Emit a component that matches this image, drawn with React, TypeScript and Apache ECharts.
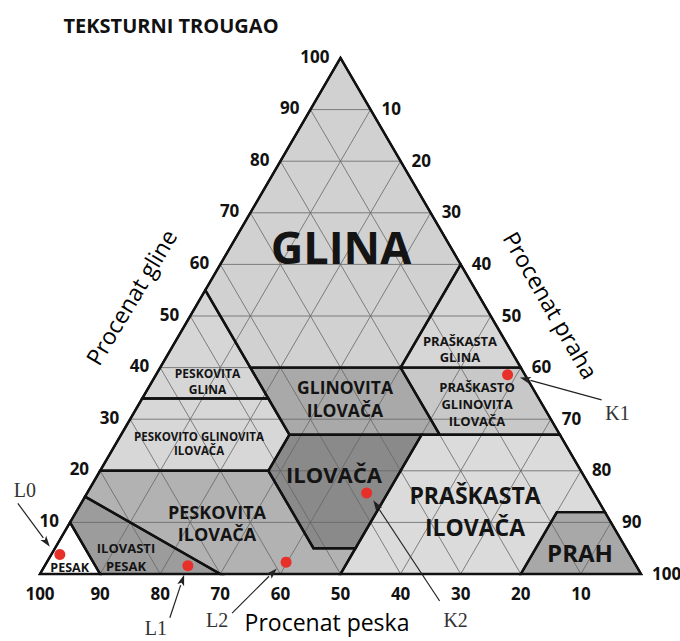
import React, { useEffect, useRef } from "react";
import * as echarts from "echarts";

// ---------- data ----------
const TITLE = "TEKSTURNI TROUGAO";
const CLAY_TITLE = "Procenat gline";
const SILT_TITLE = "Procenat praha";
const SAND_TITLE = "Procenat peska";

const TICK_VALUES = [10, 20, 30, 40, 50, 60, 70, 80, 90, 100];
const GRID_LEVELS = [10, 20, 30, 40, 50, 60, 70, 80, 90];

const CLASS_NAMES = [
  "GLINA",
  "PESKOVITA\nGLINA",
  "PESKOVITO GLINOVITA\nILOVAČA",
  "GLINOVITA\nILOVAČA",
  "PRAŠKASTA\nGLINA",
  "PRAŠKASTO\nGLINOVITA\nILOVAČA",
  "ILOVAČA",
  "PESKOVITA\nILOVAČA",
  "ILOVASTI\nPESAK",
  "PESAK",
  "PRAŠKASTA\nILOVAČA",
  "PRAH",
];

// polygon vertices as [sand, silt, clay] percentages
const CLASS_VERTICES: number[][][] = [
  [[45, 0, 55], [45, 15, 40], [20, 40, 40], [0, 40, 60], [0, 0, 100]],
  [[66, 0, 34], [45, 21, 34], [45, 0, 55]],
  [[80, 0, 20], [52, 28, 20], [45, 28, 27], [45, 21, 34], [66, 0, 34]],
  [[45, 15, 40], [45, 28, 27], [20, 53, 27], [20, 40, 40]],
  [[20, 40, 40], [0, 60, 40], [0, 40, 60]],
  [[20, 40, 40], [20, 53, 27], [0, 73, 27], [0, 60, 40]],
  [[52, 28, 20], [52, 43, 5], [45, 50, 5], [23, 50, 27], [45, 28, 27]],
  [[85, 0, 15], [70, 30, 0], [50, 50, 0], [45, 50, 5], [52, 43, 5], [52, 28, 20], [80, 0, 20]],
  [[90, 10, 0], [70, 30, 0], [85, 0, 15], [90, 0, 10]],
  [[100, 0, 0], [90, 10, 0], [90, 0, 10]],
  [[50, 50, 0], [20, 80, 0], [8, 80, 12], [0, 88, 12], [0, 73, 27], [23, 50, 27], [45, 50, 5]],
  [[20, 80, 0], [0, 100, 0], [0, 88, 12], [8, 80, 12]],
];

const TRIANGLE = [[100, 0, 0], [0, 100, 0], [0, 0, 100]];

const SAMPLE_NAMES = ["L0", "L1", "L2", "K2", "K1"];
const SAMPLE_SAND = [94.8, 74.6, 57.9, 37.8, 2.9];
const SAMPLE_SILT = [1.4, 23.8, 39.8, 46.5, 58.5];
const SAMPLE_CLAY = [3.8, 1.6, 2.3, 15.7, 38.6];

// ---------- layout / style ----------
const CLASS_FILLS = ["#d1d1d1", "#d6d6d6", "#d7d7d7", "#a9a9a9", "#d6d6d6", "#c8c8c8", "#8a8a8a", "#b2b2b2", "#9c9c9c", "#ffffff", "#dbdbdb", "#a8a8a8"];
const CLASS_FONT = [45, 12, 11.5, 17.5, 13, 13, 22, 18, 13, 12.5, 23, 24];
const CLASS_LINE_H = [45, 16, 14.5, 22.7, 16.6, 17, 22, 22.3, 17.7, 13, 31.7, 24];
// label anchors in cartesian percent of the triangle box [x%, y%]
const LABEL_POS = [[50.08, 63.43], [27.87, 37.21], [26.46, 25.25], [50.75, 33.97], [69.88, 43.6], [72.71, 32.95], [48.92, 19.38], [29.45, 9.88], [14.31, 3.29], [4.94, 1.3], [72.38, 12.21], [89.85, 4.13]];
// annotation offsets (px) relative to the sample dot: label, arrow start, arrow end
const ANN_LABEL = [[-35, -64], [-32, 62], [-69, 58], [89, 127], [110, 38]];
const ANN_START = [[-42, -51], [-18, 52], [-54, 51], [73, 108], [94, 25]];
const ANN_END = [[-10, -7.6], [-3.7, 9], [-9.3, 6.3], [6.6, 7.3], [12.3, 2.7]];

const FONT = "'Open Sans', 'DejaVu Sans', sans-serif";
const SERIF = "'Liberation Serif', 'DejaVu Serif', serif";

const toXY = (v: number[]) => {
  const s = v[0] + v[1] + v[2];
  const silt = (v[1] / s) * 100;
  const clay = (v[2] / s) * 100;
  return [silt + clay / 2, clay];
};

export default function App() {
  const ref = useRef<HTMLDivElement>(null);

  useEffect(() => {
    if (!ref.current) return;
    const chart = echarts.init(ref.current, null, { renderer: "svg" });

    const polySeries = (fill: boolean) => ({
      type: "custom",
      coordinateSystem: "cartesian2d",
      clip: false,
      silent: true,
      data: CLASS_NAMES.map((_, i) => [LABEL_POS[i][0], LABEL_POS[i][1]]),
      renderItem: (params: any, api: any) => {
        const i = params.dataIndex;
        const pts = CLASS_VERTICES[i].map((v) => api.coord(toXY(v)));
        return {
          type: "polygon",
          shape: { points: pts },
          style: fill
            ? { fill: CLASS_FILLS[i], stroke: CLASS_FILLS[i], lineWidth: 0.5 }
            : { fill: "none", stroke: "#111", lineWidth: 2.4, lineJoin: "miter" },
        };
      },
    });

    const option: any = {
      animation: false,
      backgroundColor: "#ffffff",
      grid: { left: 40, right: 39, top: 58, bottom: 67 },
      xAxis: { type: "value", min: 0, max: 100, show: false },
      yAxis: { type: "value", min: 0, max: 100, show: false },
      graphic: [
        {
          type: "text",
          x: 171,
          y: 25,
          style: { text: TITLE, font: `bold 20px ${FONT}`, fill: "#111", align: "center", verticalAlign: "middle" },
        },
        {
          type: "text",
          x: 131,
          y: 297,
          rotation: (59 * Math.PI) / 180,
          style: { text: CLAY_TITLE, font: `500 23px ${FONT}`, fill: "#000", align: "center", verticalAlign: "middle" },
        },
        {
          type: "text",
          x: 551,
          y: 305,
          rotation: (-60 * Math.PI) / 180,
          style: { text: SILT_TITLE, font: `500 23px ${FONT}`, fill: "#000", align: "center", verticalAlign: "middle" },
        },
        {
          type: "text",
          x: 327,
          y: 622,
          style: { text: SAND_TITLE, font: `500 23px ${FONT}`, fill: "#000", align: "center", verticalAlign: "middle" },
        },
      ],
      series: [
        polySeries(true),
        {
          type: "custom",
          coordinateSystem: "cartesian2d",
          clip: false,
          silent: true,
          data: GRID_LEVELS.map((g) => [g, g]),
          renderItem: (params: any, api: any) => {
            const g = GRID_LEVELS[params.dataIndex];
            const st = { stroke: "#666", lineWidth: 0.8 };
            const seg = (a: number[], b: number[]) => {
              const p = api.coord(toXY(a));
              const q = api.coord(toXY(b));
              return { type: "line", shape: { x1: p[0], y1: p[1], x2: q[0], y2: q[1] }, style: st };
            };
            return {
              type: "group",
              children: [
                seg([100 - g, 0, g], [0, 100 - g, g]), // clay
                seg([g, 100 - g, 0], [g, 0, 100 - g]), // sand
                seg([100 - g, g, 0], [0, g, 100 - g]), // silt
              ],
            };
          },
        },
        polySeries(false),
        {
          type: "custom",
          coordinateSystem: "cartesian2d",
          clip: false,
          silent: true,
          data: [[50, 50]],
          renderItem: (params: any, api: any) => ({
            type: "polygon",
            shape: { points: TRIANGLE.map((v) => api.coord(toXY(v))) },
            style: { fill: "none", stroke: "#111", lineWidth: 2.2, lineJoin: "miter" },
          }),
        },
        {
          type: "custom",
          coordinateSystem: "cartesian2d",
          clip: false,
          silent: true,
          data: CLASS_NAMES.map((_, i) => [LABEL_POS[i][0], LABEL_POS[i][1]]),
          renderItem: (params: any, api: any) => {
            const i = params.dataIndex;
            const p = api.coord([api.value(0), api.value(1)]);
            return {
              type: "text",
              x: p[0],
              y: p[1],
              style: {
                text: CLASS_NAMES[i],
                fontFamily: FONT,
                fontWeight: "bold",
                fontSize: CLASS_FONT[i],
                lineHeight: CLASS_LINE_H[i],
                fill: "#141414",
                align: "center",
                verticalAlign: "middle",
              },
            };
          },
        },
        {
          type: "custom",
          coordinateSystem: "cartesian2d",
          clip: false,
          silent: true,
          data: TICK_VALUES.map((t) => [t, t]),
          renderItem: (params: any, api: any) => {
            const t = TICK_VALUES[params.dataIndex];
            const base = { fontFamily: FONT, fontWeight: "bold", fontSize: 17, fill: "#111", verticalAlign: "middle" };
            const left = api.coord(toXY([100 - t, 0, t]));
            const right = api.coord(toXY([0, t, 100 - t]));
            const bottom = api.coord(toXY([t, 100 - t, 0]));
            return {
              type: "group",
              children: [
                { type: "text", x: left[0] - 11, y: left[1] - 2, style: { ...base, text: String(t), align: "right" } },
                { type: "text", x: right[0] + 11, y: right[1] - 1, style: { ...base, text: String(t), align: "left" } },
                { type: "text", x: bottom[0], y: bottom[1] + 19, style: { ...base, text: String(t), align: "center" } },
              ],
            };
          },
        },
        {
          type: "custom",
          coordinateSystem: "cartesian2d",
          clip: false,
          silent: true,
          data: SAMPLE_NAMES.map((_, i) => toXY([SAMPLE_SAND[i], SAMPLE_SILT[i], SAMPLE_CLAY[i]])),
          renderItem: (params: any, api: any) => {
            const i = params.dataIndex;
            const d = api.coord([api.value(0), api.value(1)]);
            const s = [d[0] + ANN_START[i][0], d[1] + ANN_START[i][1]];
            const e = [d[0] + ANN_END[i][0], d[1] + ANN_END[i][1]];
            const l = [d[0] + ANN_LABEL[i][0], d[1] + ANN_LABEL[i][1]];
            const dx = e[0] - s[0];
            const dy = e[1] - s[1];
            const len = Math.sqrt(dx * dx + dy * dy);
            const ux = dx / len;
            const uy = dy / len;
            const hl = 11;
            const hw = 3.6;
            const bx = e[0] - ux * hl;
            const by = e[1] - uy * hl;
            return {
              type: "group",
              children: [
                { type: "line", shape: { x1: s[0], y1: s[1], x2: bx, y2: by }, style: { stroke: "#222", lineWidth: 1.2 } },
                {
                  type: "polygon",
                  shape: { points: [e, [bx - uy * hw, by + ux * hw], [bx + ux * 2.5, by + uy * 2.5], [bx + uy * hw, by - ux * hw]] },
                  style: { fill: "#222" },
                },
                {
                  type: "text",
                  x: l[0],
                  y: l[1],
                  style: { text: SAMPLE_NAMES[i], fontFamily: SERIF, fontSize: 20, fill: "#333", align: "center", verticalAlign: "middle" },
                },
              ],
            };
          },
        },
        {
          type: "scatter",
          silent: true,
          symbol: "circle",
          symbolSize: 11,
          itemStyle: { color: "#e8302a", opacity: 1 },
          data: SAMPLE_NAMES.map((_, i) => toXY([SAMPLE_SAND[i], SAMPLE_SILT[i], SAMPLE_CLAY[i]])),
        },
      ],
    };

    chart.setOption(option);
    return () => chart.dispose();
  }, []);

  return <div ref={ref} style={{ position: "fixed", left: 0, top: 0, width: 680, height: 641 }} />;
}
